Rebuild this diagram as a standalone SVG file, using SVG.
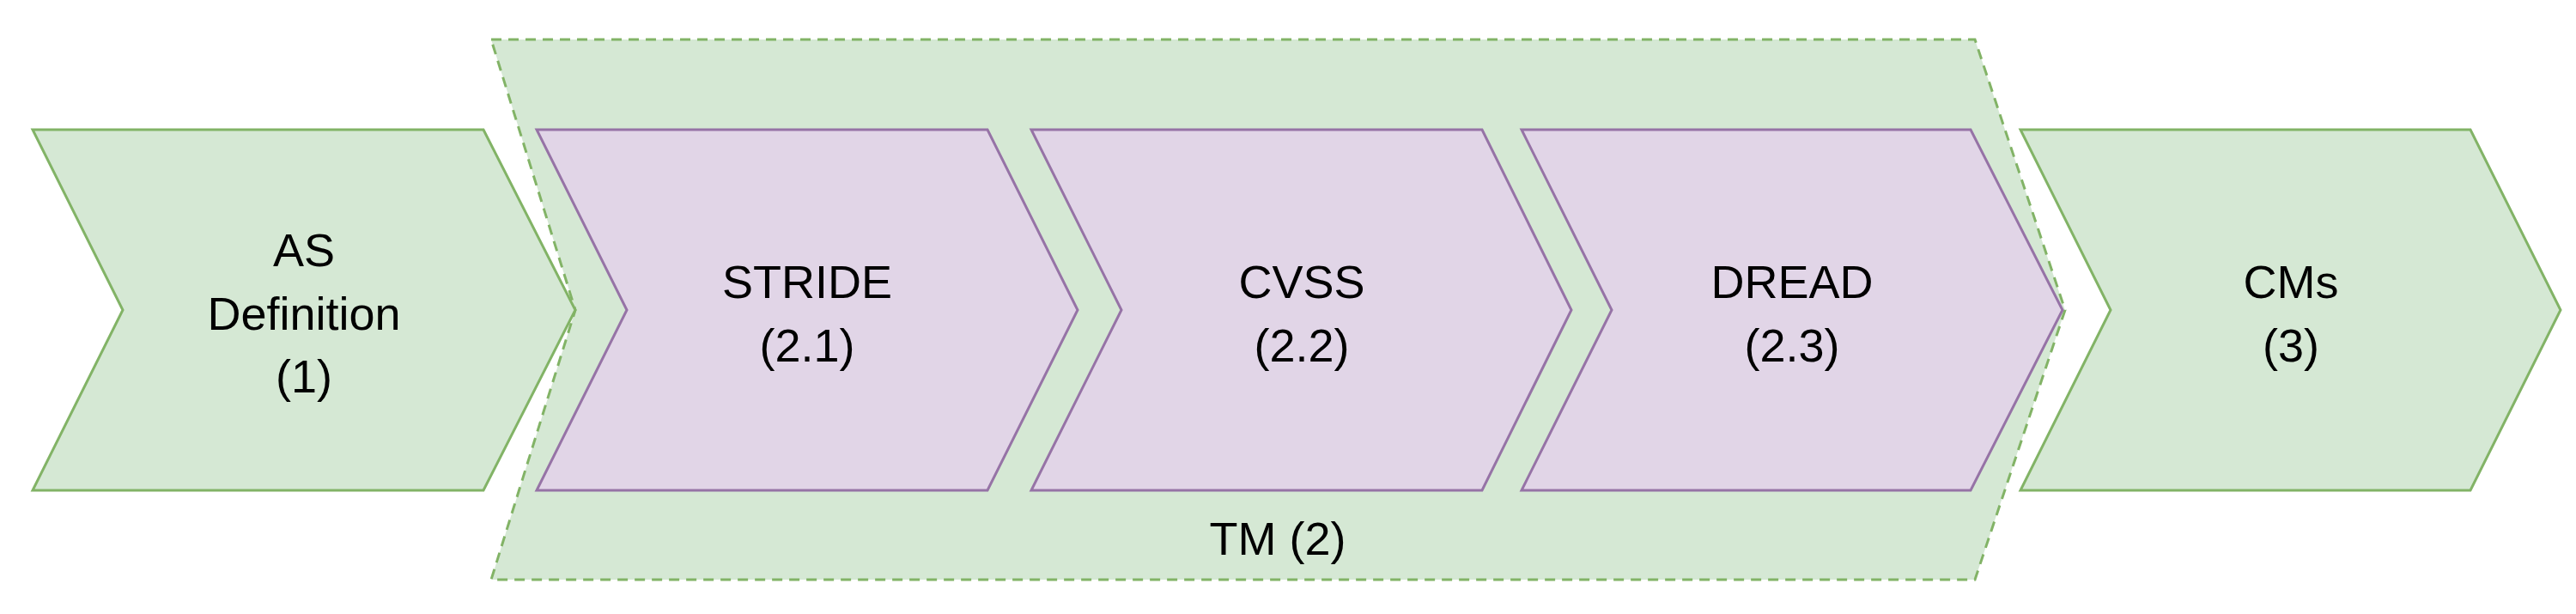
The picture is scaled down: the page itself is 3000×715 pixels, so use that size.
<svg xmlns="http://www.w3.org/2000/svg" width="3000" height="715" viewBox="0 0 3000 715">
<style>
.g{fill:#d5e8d4;stroke:#82b366;stroke-width:3}
.p{fill:#e1d5e7;stroke:#9673a6;stroke-width:3}
.d{stroke-dasharray:12 8}
text{font-family:"Liberation Sans",Arial,sans-serif;font-size:54px;fill:#000;text-anchor:middle}
</style>
<rect width="3000" height="715" fill="#fff"/>
<g id="TM">
<polygon class="g d" points="572,46 2300,46 2405,361 2300,675 572,675 670,361"/>
<text x="1488" y="646">TM (2)</text>
</g>
<g id="AS">
<polygon class="g" points="38,151 563,151 670,361 563,571 38,571 143,361"/>
<text x="354" y="310">AS</text><text x="354" y="384">Definition</text><text x="354" y="457">(1)</text>
</g>
<g id="STRIDE">
<polygon class="p" points="625,151 1150,151 1255,361 1150,571 625,571 730,361"/>
<text x="940" y="347">STRIDE</text><text x="940" y="421">(2.1)</text>
</g>
<g id="CVSS">
<polygon class="p" points="1201,151 1726,151 1830,361 1726,571 1201,571 1306,361"/>
<text x="1516" y="347">CVSS</text><text x="1516" y="421">(2.2)</text>
</g>
<g id="DREAD">
<polygon class="p" points="1772,151 2295,151 2402,361 2295,571 1772,571 1877,361"/>
<text x="2087" y="347">DREAD</text><text x="2087" y="421">(2.3)</text>
</g>
<g id="CMs">
<polygon class="g" points="2353,151 2877,151 2982,361 2877,571 2353,571 2458,361"/>
<text x="2668" y="347">CMs</text><text x="2668" y="421">(3)</text>
</g>
<g id="connectors"/>
</svg>
